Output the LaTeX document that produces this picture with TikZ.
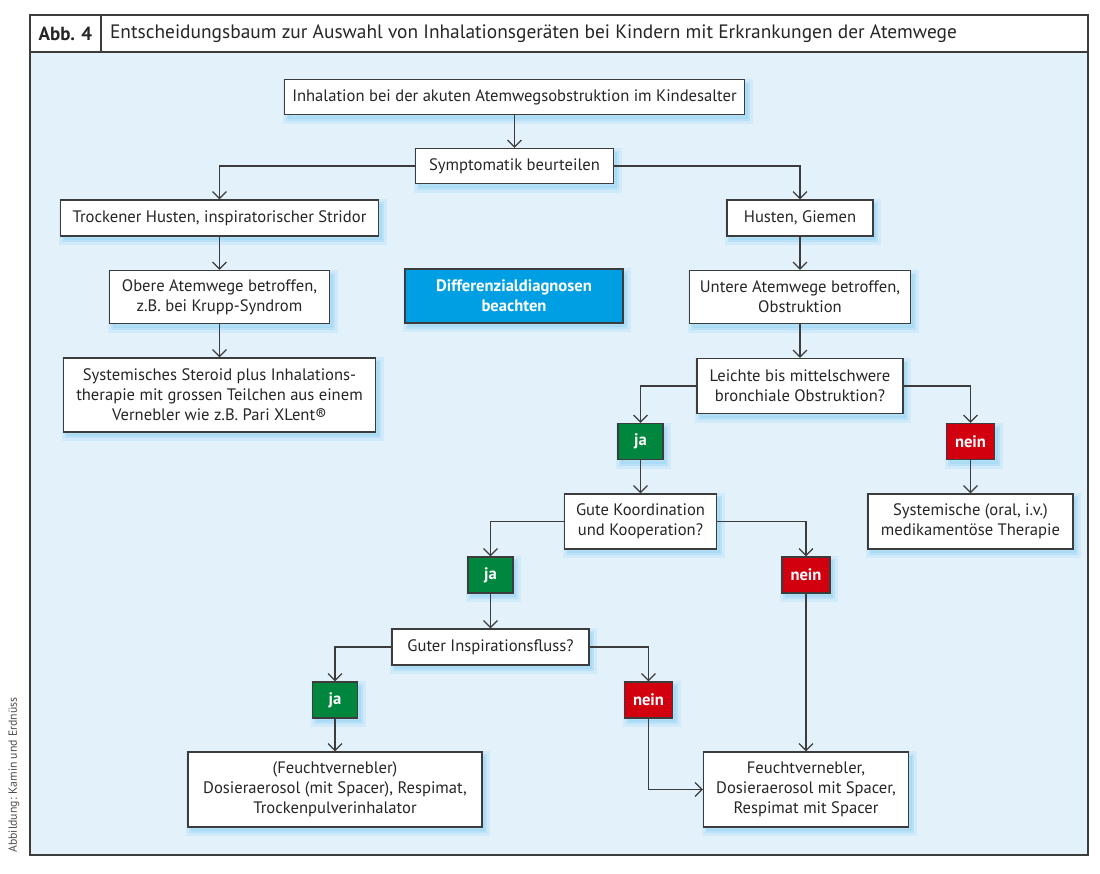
\documentclass[tikz,border=0pt]{standalone}
\usepackage{fontspec}
\setmainfont{PT Sans}
\usetikzlibrary{arrows.meta,shadows}
\definecolor{bgblue}{HTML}{E3F1FB}
\definecolor{jagreen}{HTML}{00873D}
\definecolor{neinred}{HTML}{D2000F}
\definecolor{ddblue}{HTML}{009FE3}
\definecolor{glowblue}{HTML}{9FD8F5}
\definecolor{edge}{HTML}{3C3C3C}

\begin{document}
\begin{tikzpicture}[x=0.5pt, y=-0.5pt, >={Straight Barb[length=3.5pt,width=7pt]},
  every node/.style={font=\fontsize{8.3}{10}\selectfont, text=black!85},
  glow/.style={general shadow={fill=glowblue, draw=glowblue, line width=5pt, opacity=0.25, shadow xshift=1.5pt, shadow yshift=-2pt},
    general shadow={fill=glowblue, draw=glowblue, line width=2pt, opacity=0.45, shadow xshift=1.5pt, shadow yshift=-2pt}},
  box/.style={draw=edge, fill=white, line width=0.6pt, align=center, inner sep=2pt, glow},
  ja tag/.style={box, fill=jagreen, text=white, font=\fontsize{8.3}{10}\selectfont\bfseries, minimum width=22.5pt, minimum height=18pt},
  nein tag/.style={box, fill=neinred, text=white, font=\fontsize{8.3}{10}\selectfont\bfseries, minimum width=24pt, minimum height=18pt},
  link/.style={draw=edge, line width=0.6pt, ->}]
  \useasboundingbox (0,0) rectangle (1100,874);

  % frame and title bar
  \fill[bgblue] (30,52) rectangle (1088,855);
  \draw[edge, line width=0.8pt] (30,15) rectangle (1088,855);
  \draw[edge, line width=0.8pt] (30,52) -- (1088,52) (101,15) -- (101,52);
  \node[font=\fontsize{9.5}{11}\selectfont\bfseries] (abb) at (65.5,33.5) {Abb. 4};
  \node[anchor=west, font=\fontsize{9.7}{11}\selectfont] (title) at (103,33.5)
    {Entscheidungsbaum zur Auswahl von Inhalationsgeräten bei Kindern mit Erkrankungen der Atemwege};
  \node[rotate=90, font=\fontsize{5.9}{7}\selectfont, text=black!70] (credit) at (14,775) {Abbildung: Kamin und Erdnüss};

  % boxes
  \node[box, minimum width=230pt, minimum height=17.5pt] (top) at (514.5,97) {Inhalation bei der akuten Atemwegsobstruktion im Kindesalter};
  \node[box, minimum width=99pt, minimum height=17.5pt] (sym) at (514.5,166) {Symptomatik beurteilen};
  \node[box, minimum width=159pt, minimum height=18pt] (tro) at (219.5,218) {Trockener Husten, inspiratorischer Stridor};
  \node[box, minimum width=73pt, minimum height=18pt] (hus) at (800,218) {Husten, Giemen};
  \node[box, minimum width=110pt, minimum height=26.5pt] (obe) at (219.5,297) {Obere Atemwege betroffen,\\z.B. bei Krupp-Syndrom};
  \node[box, fill=ddblue, text=white, font=\fontsize{8.3}{10}\selectfont\bfseries, minimum width=109pt, minimum height=27pt] (dif) at (514,296) {Differenzialdiagnosen\\beachten};
  \node[box, minimum width=110.5pt, minimum height=26.5pt] (unt) at (800,297) {Untere Atemwege betroffen,\\Obstruktion};
  \node[box, minimum width=156pt, minimum height=37pt] (ste) at (219.5,395) {Systemisches Steroid plus Inhalations-\\therapie mit grossen Teilchen aus einem\\Vernebler wie z.B. Pari XLent®};
  \node[box, minimum width=103pt, minimum height=27.5pt] (lei) at (800,386) {Leichte bis mittelschwere\\bronchiale Obstruktion?};
  \node[box, minimum width=76pt, minimum height=27.5pt] (gut) at (640.5,521.5) {Gute Koordination\\und Kooperation?};
  \node[box, minimum width=102.5pt, minimum height=27.5pt] (sys) at (970.5,521.5) {Systemische (oral, i.v.)\\medikamentöse Therapie};
  \node[box, minimum width=98.5pt, minimum height=18pt] (ins) at (490.5,647) {Guter Inspirationsfluss?};
  \node[box, minimum width=147pt, minimum height=37.5pt] (dos) at (335,789.5) {(Feuchtvernebler)\\Dosieraerosol (mit Spacer), Respimat,\\Trockenpulverinhalator};
  \node[box, minimum width=102.5pt, minimum height=37.5pt] (feu) at (806,789.5) {Feuchtvernebler,\\Dosieraerosol mit Spacer,\\Respimat mit Spacer};

  % ja / nein tags
  \foreach \nm/\x/\y/\t in {ja1/640.5/441.5/ja, ne1/970.5/441.5/nein, ja2/490.5/575/ja,
      ne2/806/575/nein, ja3/335/700/ja, ne3/648.5/700/nein} {
    \node[\t\space tag] (\nm) at (\x,\y) {\t};
  }

  % connectors
  \draw[link] (top) -- (sym);
  \draw[link] (sym.west) -| (tro.north);
  \draw[link] (sym.east) -| (hus.north);
  \draw[link] (tro) -- (obe);
  \draw[link] (obe) -- (ste);
  \draw[link] (hus) -- (unt);
  \draw[link] (unt) -- (lei);
  \draw[link] (lei.west) -| (ja1.north);
  \draw[link] (lei.east) -| (ne1.north);
  \draw[link] (ja1) -- (gut);
  \draw[link] (ne1) -- (sys);
  \draw[link] (gut.west) -| (ja2.north);
  \draw[link] (gut.east) -| (ne2.north);
  \draw[link] (ja2) -- (ins);
  \draw[link] (ins.west) -| (ja3.north);
  \draw[link] (ins.east) -| (ne3.north);
  \draw[link] (ja3) -- (dos);
  \draw[link] (ne3.south) |- (feu.west);
  \draw[link] (ne2) -- (feu);
\end{tikzpicture}
\end{document}
